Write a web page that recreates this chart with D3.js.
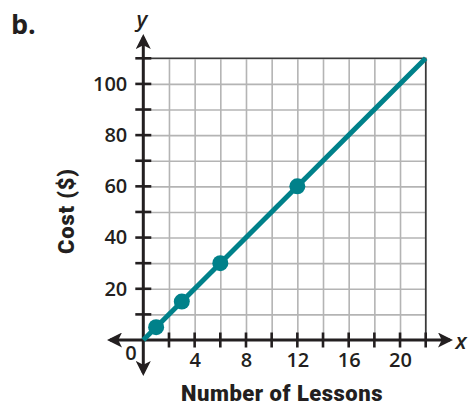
<!DOCTYPE html>
<html>
<head>
<meta charset="utf-8">
<script src="https://cdn.jsdelivr.net/npm/d3@7"></script>
<style>
  body { margin: 0; background: #fff; }
  text { fill: #231f20; }
</style>
</head>
<body>
<div id="chart"></div>
<script>
// values
var lessons = [1, 3, 6, 12];
var costs = [5, 15, 30, 60];
var lineLessons = [0, 22];
var lineCosts = [0, 110];
var xLabels = [4, 8, 12, 16, 20];
var yLabels = [20, 40, 60, 80, 100];
var xGrid = d3.range(2, 23, 2);
var yGrid = d3.range(10, 111, 10);

var width = 469, height = 405;
var teal = "#00818a", ink = "#231f20", gridGray = "#b4b4b4";

var x = d3.scaleLinear().domain([0, 22]).range([143.3, 425.7]);
var y = d3.scaleLinear().domain([0, 110]).range([340, 58.3]);

var svg = d3.select("#chart").append("svg")
    .attr("width", width)
    .attr("height", height);

// grid
svg.append("g")
    .attr("transform", "translate(0," + y(0) + ")")
    .call(d3.axisBottom(x).tickValues(xGrid).tickSize(-(y(0) - y(110))).tickFormat(""))
    .call(function(g){
      g.select(".domain").remove();
      g.selectAll("line").attr("stroke", gridGray).attr("stroke-width", 1.6);
    });

svg.append("g")
    .attr("transform", "translate(" + x(0) + ",0)")
    .call(d3.axisLeft(y).tickValues(yGrid).tickSize(-(x(22) - x(0))).tickFormat(""))
    .call(function(g){
      g.select(".domain").remove();
      g.selectAll("line").attr("stroke", gridGray).attr("stroke-width", 1.6);
    });

// top and right border
svg.append("path")
    .attr("d", "M" + x(0) + "," + y(110) + "H" + x(22) + "V" + y(0))
    .attr("fill", "none")
    .attr("stroke", "#3a3a3a")
    .attr("stroke-width", 1.6);

// arrow heads
var defs = svg.append("defs");
defs.append("marker")
    .attr("id", "arrow")
    .attr("viewBox", "0 0 10 10")
    .attr("refX", 8).attr("refY", 5)
    .attr("markerWidth", 5).attr("markerHeight", 5)
    .attr("markerUnits", "strokeWidth")
    .attr("orient", "auto-start-reverse")
  .append("path")
    .attr("d", "M0,0 L10,5 L0,10 L2.5,5 Z")
    .attr("fill", ink);

// axes lines
svg.append("line")
    .attr("x1", 110).attr("x2", 450)
    .attr("y1", y(0)).attr("y2", y(0))
    .attr("stroke", ink).attr("stroke-width", 3)
    .attr("marker-start", "url(#arrow)")
    .attr("marker-end", "url(#arrow)");

svg.append("line")
    .attr("x1", x(0)).attr("x2", x(0))
    .attr("y1", 373).attr("y2", 37)
    .attr("stroke", ink).attr("stroke-width", 3)
    .attr("marker-start", "url(#arrow)")
    .attr("marker-end", "url(#arrow)");

// tick marks on both sides of axes
svg.append("g").selectAll("line")
    .data(xGrid)
    .enter().append("line")
    .attr("x1", function(d){ return x(d); })
    .attr("x2", function(d){ return x(d); })
    .attr("y1", y(0) - 7.5).attr("y2", y(0) + 7.5)
    .attr("stroke", ink).attr("stroke-width", 2.6);

svg.append("g").selectAll("line")
    .data(yGrid)
    .enter().append("line")
    .attr("y1", function(d){ return y(d); })
    .attr("y2", function(d){ return y(d); })
    .attr("x1", x(0) - 8).attr("x2", x(0) + 8)
    .attr("stroke", ink).attr("stroke-width", 2.6);

// tick labels
var labelFont = "'Open Sans', sans-serif";
svg.append("g")
    .attr("transform", "translate(0," + y(0) + ")")
    .call(d3.axisBottom(x).tickValues(xLabels).tickSize(0).tickPadding(13))
    .call(function(g){
      g.select(".domain").remove();
      g.selectAll("text").style("font", "600 20px " + labelFont).attr("fill", ink);
    });

svg.append("g")
    .attr("transform", "translate(" + x(0) + ",0)")
    .call(d3.axisLeft(y).tickValues(yLabels).tickSize(0).tickPadding(16))
    .call(function(g){
      g.select(".domain").remove();
      g.selectAll("text").style("font", "600 20px " + labelFont).attr("fill", ink);
    });

svg.append("text")
    .attr("x", 131).attr("y", 360)
    .attr("text-anchor", "middle")
    .style("font", "600 20px " + labelFont)
    .text("0");

// line and points
var line = d3.line()
    .x(function(d){ return x(d[0]); })
    .y(function(d){ return y(d[1]); });

svg.append("path")
    .datum(d3.zip(lineLessons, lineCosts))
    .attr("d", line)
    .attr("fill", "none")
    .attr("stroke", teal)
    .attr("stroke-width", 5);

svg.append("g").selectAll("circle")
    .data(d3.zip(lessons, costs))
    .enter().append("circle")
    .attr("cx", function(d){ return x(d[0]); })
    .attr("cy", function(d){ return y(d[1]); })
    .attr("r", 8)
    .attr("fill", teal);

// axis letters and titles
svg.append("text")
    .attr("x", 461).attr("y", 349)
    .attr("text-anchor", "middle")
    .style("font", "italic 600 22px " + labelFont)
    .text("x");

svg.append("text")
    .attr("x", 142).attr("y", 27)
    .attr("text-anchor", "middle")
    .style("font", "italic 600 22px " + labelFont)
    .text("y");

var titleFont = "900 22px Roboto, sans-serif";
svg.append("text")
    .attr("x", 282).attr("y", 401)
    .attr("text-anchor", "middle")
    .style("font", titleFont)
    .style("letter-spacing", "0.5px")
    .text("Number of Lessons");

svg.append("text")
    .attr("transform", "translate(74,211) rotate(-90)")
    .attr("text-anchor", "middle")
    .style("font", titleFont)
    .style("letter-spacing", "0.8px")
    .text("Cost ($)");

svg.append("text")
    .attr("x", 11).attr("y", 34)
    .style("font", "bold 27px " + labelFont)
    .text("b.");
</script>
</body>
</html>
